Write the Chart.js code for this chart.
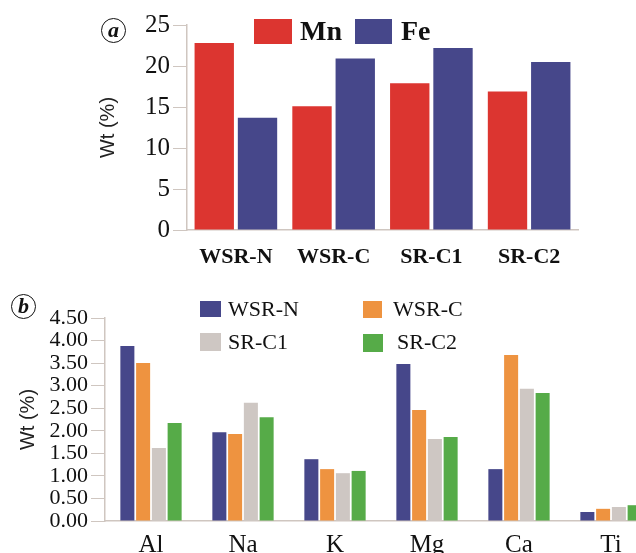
<!DOCTYPE html>
<html>
<head>
<meta charset="utf-8">
<script src="https://cdn.jsdelivr.net/npm/chart.js@4"></script>
<style>
    body { margin: 0; width: 636px; height: 553px; overflow: hidden; position: relative; background: #fff; }
    canvas { position: absolute; left: 0; }
    #chartA { top: 0; }
    #chartB { top: 270px; }
    .tag { position: absolute; width: 23px; height: 23px; border: 1.5px solid #111; border-radius: 50%;
           font: italic bold 22px "Liberation Serif"; line-height: 21px; text-align: center; color: #111; }
    .box { position: absolute; }
    .lab { position: absolute; font-family: "Liberation Serif"; color: #111; white-space: nowrap; }
</style>
</head>
<body>
<canvas id="chartA" width="636" height="270"></canvas>
<canvas id="chartB" width="670" height="300"></canvas>

<div class="tag" style="left:101px; top:18px;">a</div>
<div class="tag" style="left:11px; top:294px;">b</div>

<div class="box" style="left:254px; top:19px; width:38px; height:25px; background:#DC3530;"></div>
<div class="lab" style="left:300px; top:15px; font-size:28px; font-weight:bold;">Mn</div>
<div class="box" style="left:355px; top:19px; width:37px; height:25px; background:#46478A;"></div>
<div class="lab" style="left:401px; top:15px; font-size:28px; font-weight:bold;">Fe</div>

<div class="box" style="left:200px; top:301px; width:21px; height:16px; background:#46478A;"></div>
<div class="lab" style="left:228px; top:296px; font-size:22px;">WSR-N</div>
<div class="box" style="left:363px; top:301px; width:19px; height:17px; background:#EE9340;"></div>
<div class="lab" style="left:393px; top:296px; font-size:22px;">WSR-C</div>
<div class="box" style="left:200px; top:333px; width:21px; height:18px; background:#CEC7C3;"></div>
<div class="lab" style="left:228px; top:329px; font-size:22px;">SR-C1</div>
<div class="box" style="left:363px; top:334px; width:20px; height:18px; background:#56AB48;"></div>
<div class="lab" style="left:397px; top:329px; font-size:22px;">SR-C2</div>

<script>
// panel a: Mn / Fe content per sample
const samples = ['WSR-N', 'WSR-C', 'SR-C1', 'SR-C2'];
const mnValues = [22.8, 15.1, 17.9, 16.9];
const feValues = [13.7, 20.9, 22.2, 20.5];
const ticksA = [0, 5, 10, 15, 20, 25];

// panel b: other elements per sample
const elements = ['Al', 'Na', 'K', 'Mg', 'Ca', 'Ti'];
const wsrN = [3.88, 1.97, 1.37, 3.48, 1.15, 0.20];
const wsrC = [3.50, 1.93, 1.15, 2.46, 3.68, 0.27];
const srC1 = [1.62, 2.62, 1.06, 1.82, 2.93, 0.31];
const srC2 = [2.17, 2.30, 1.11, 1.86, 2.84, 0.35];
const ticksB = [0, 0.5, 1, 1.5, 2, 2.5, 3, 3.5, 4, 4.5];

const axisColor = '#CFC6C0';

function chartA() {
    const ctx = document.getElementById('chartA').getContext('2d');
    new Chart(ctx, {
        type: 'bar',
        data: {
            labels: samples,
            datasets: [
                { label: 'Mn', data: mnValues, backgroundColor: '#DC3530' },
                { label: 'Fe', data: feValues, backgroundColor: '#46478A' }
            ]
        },
        options: {
            responsive: false,
            animation: false,
            categoryPercentage: 0.885,
            barPercentage: 0.91,
            layout: { autoPadding: false, padding: { top: 25, right: 58, left: 0, bottom: 0 } },
            plugins: { legend: { display: false }, tooltip: { enabled: false } },
            scales: {
                x: {
                    afterFit: s => { s.height = 40; },
                    grid: { display: false },
                    border: { color: axisColor, width: 1.5 },
                    ticks: { color: '#111', padding: 6, font: { family: 'Liberation Serif', size: 22, weight: 'bold' } }
                },
                y: {
                    min: 0, max: 25,
                    afterFit: s => { s.width = 187; },
                    afterBuildTicks: s => { s.ticks = ticksA.map(v => ({ value: v })); },
                    grid: { drawOnChartArea: false, tickLength: 14, color: axisColor },
                    border: { color: axisColor, width: 1.5 },
                    ticks: { autoSkip: false, color: '#111', padding: 3, font: { family: 'Liberation Serif', size: 25 } },
                    title: { display: true, text: 'Wt (%)', color: '#222', padding: { top: 96 },
                             font: { family: 'Liberation Sans', size: 20 } }
                }
            }
        }
    });
}

function chartB() {
    const ctx = document.getElementById('chartB').getContext('2d');
    new Chart(ctx, {
        type: 'bar',
        data: {
            labels: elements,
            datasets: [
                { label: 'WSR-N', data: wsrN, backgroundColor: '#46478A' },
                { label: 'WSR-C', data: wsrC, backgroundColor: '#EE9340' },
                { label: 'SR-C1', data: srC1, backgroundColor: '#CEC7C3' },
                { label: 'SR-C2', data: srC2, backgroundColor: '#56AB48' }
            ]
        },
        options: {
            responsive: false,
            animation: false,
            categoryPercentage: 0.685,
            barPercentage: 0.89,
            layout: { autoPadding: false, padding: { top: 48, right: 13, left: 0, bottom: 0 } },
            plugins: { legend: { display: false }, tooltip: { enabled: false } },
            scales: {
                x: {
                    afterFit: s => { s.height = 49; },
                    grid: { display: false },
                    border: { color: axisColor, width: 1.5 },
                    ticks: { color: '#111', padding: 1, font: { family: 'Liberation Serif', size: 25 } }
                },
                y: {
                    min: 0, max: 4.5,
                    afterFit: s => { s.width = 105; },
                    afterBuildTicks: s => { s.ticks = ticksB.map(v => ({ value: v })); },
                    grid: { drawOnChartArea: false, tickLength: 14, color: axisColor },
                    border: { color: axisColor, width: 1.5 },
                    ticks: { autoSkip: false, color: '#111', padding: 3, callback: v => v.toFixed(2),
                             font: { family: 'Liberation Serif', size: 22 } },
                    title: { display: true, text: 'Wt (%)', color: '#222', padding: { top: 16 },
                             font: { family: 'Liberation Sans', size: 20 } }
                }
            }
        }
    });
}

chartA();
chartB();
</script>
</body>
</html>
